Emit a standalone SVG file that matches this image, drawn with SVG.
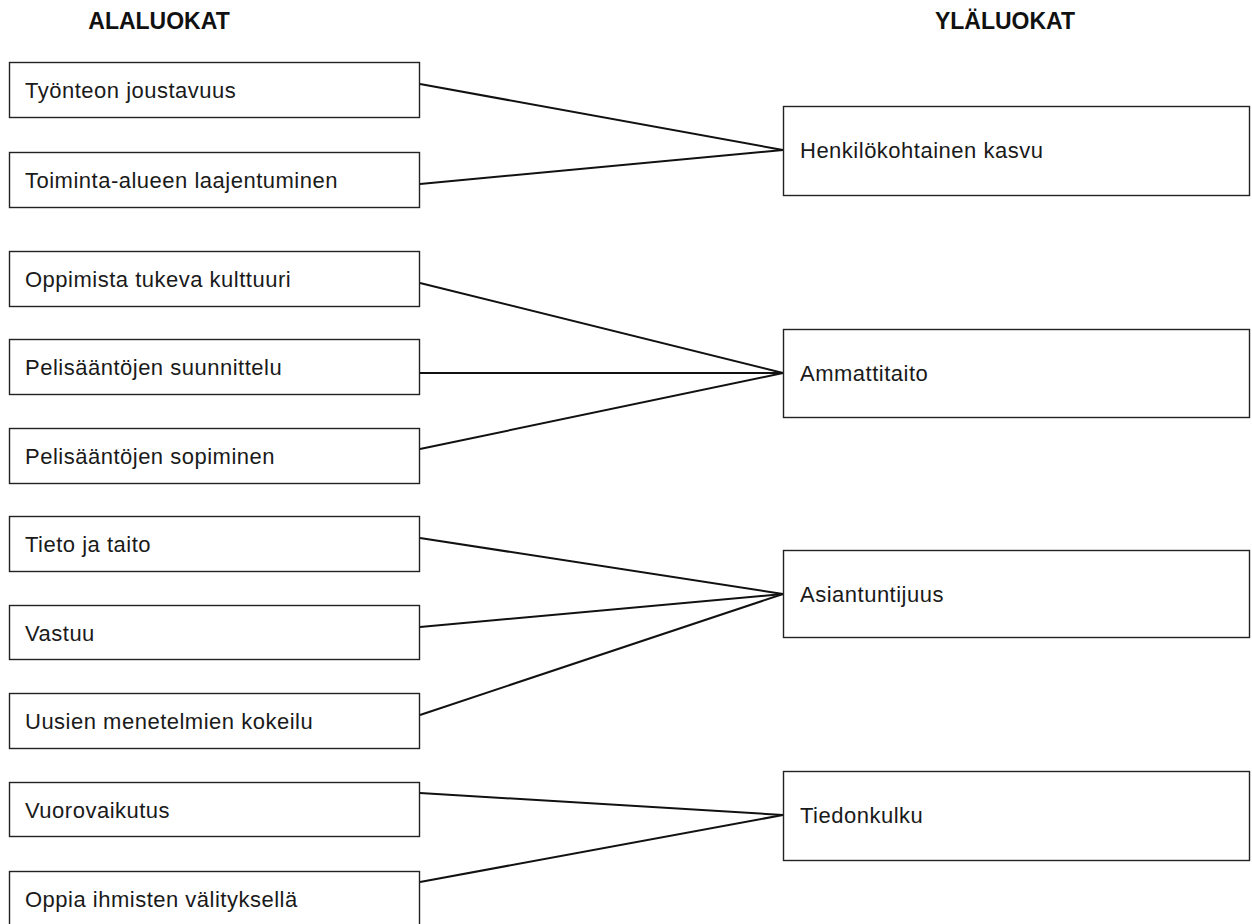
<svg xmlns="http://www.w3.org/2000/svg" width="1252" height="924" viewBox="0 0 1252 924">
<style>
.box{fill:#fff;stroke:#222;stroke-width:1.4}
.t{font-family:"Liberation Sans",Arial,sans-serif;font-size:22px;letter-spacing:0.5px;fill:#1a1a1a}
.h{font-family:"Liberation Sans",Arial,sans-serif;font-size:23px;font-weight:bold;fill:#111;text-anchor:middle}
.c{stroke:#111;stroke-width:2;fill:none}
</style>
<rect width="1252" height="924" fill="#fff"/>
<text class="h" x="159" y="29">ALALUOKAT</text>
<text class="h" x="1005" y="29">YLÄLUOKAT</text>
<g id="connectors">
<line class="c" x1="420" y1="84" x2="783" y2="150"/>
<line class="c" x1="420" y1="184" x2="783" y2="150"/>
<line class="c" x1="420" y1="283" x2="783" y2="373"/>
<line class="c" x1="420" y1="373" x2="783" y2="373"/>
<line class="c" x1="420" y1="449" x2="783" y2="373"/>
<line class="c" x1="420" y1="538" x2="783" y2="594"/>
<line class="c" x1="420" y1="627" x2="783" y2="594"/>
<line class="c" x1="420" y1="715" x2="783" y2="594"/>
<line class="c" x1="420" y1="793" x2="783" y2="815"/>
<line class="c" x1="420" y1="882" x2="783" y2="815"/>
</g>
<g id="n1"><rect class="box" x="9.5" y="62.5" width="410" height="55"/><text class="t" x="25" y="98">Työnteon joustavuus</text></g>
<g id="n2"><rect class="box" x="9.5" y="152.5" width="410" height="55"/><text class="t" x="25" y="188">Toiminta-alueen laajentuminen</text></g>
<g id="n3"><rect class="box" x="9.5" y="251.5" width="410" height="55"/><text class="t" x="25" y="287">Oppimista tukeva kulttuuri</text></g>
<g id="n4"><rect class="box" x="9.5" y="339.5" width="410" height="55"/><text class="t" x="25" y="375">Pelisääntöjen suunnittelu</text></g>
<g id="n5"><rect class="box" x="9.5" y="428.5" width="410" height="55"/><text class="t" x="25" y="464">Pelisääntöjen sopiminen</text></g>
<g id="n6"><rect class="box" x="9.5" y="516.5" width="410" height="55"/><text class="t" x="25" y="552">Tieto ja taito</text></g>
<g id="n7"><rect class="box" x="9.5" y="605.5" width="410" height="54"/><text class="t" x="25" y="641">Vastuu</text></g>
<g id="n8"><rect class="box" x="9.5" y="693.5" width="410" height="55"/><text class="t" x="25" y="729">Uusien menetelmien kokeilu</text></g>
<g id="n9"><rect class="box" x="9.5" y="782.5" width="410" height="54"/><text class="t" x="25" y="818">Vuorovaikutus</text></g>
<g id="n10"><rect class="box" x="9.5" y="871.5" width="410" height="55"/><text class="t" x="25" y="907">Oppia ihmisten välityksellä</text></g>
<g id="r1"><rect class="box" x="783.5" y="106.5" width="466" height="89"/><text class="t" x="800" y="158">Henkilökohtainen kasvu</text></g>
<g id="r2"><rect class="box" x="783.5" y="329.5" width="466" height="88"/><text class="t" x="800" y="381">Ammattitaito</text></g>
<g id="r3"><rect class="box" x="783.5" y="550.5" width="466" height="87"/><text class="t" x="800" y="602">Asiantuntijuus</text></g>
<g id="r4"><rect class="box" x="783.5" y="771.5" width="466" height="89"/><text class="t" x="800" y="823">Tiedonkulku</text></g>
</svg>
